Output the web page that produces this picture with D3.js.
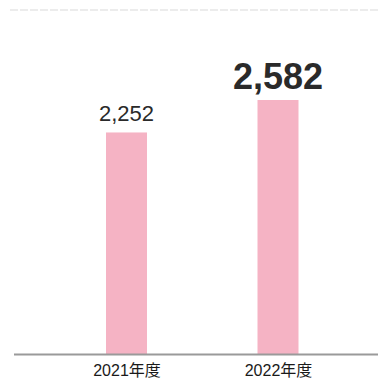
<!DOCTYPE html>
<html>
<head>
<meta charset="utf-8">
<script src="https://cdn.jsdelivr.net/npm/d3@7"></script>
<style>
  html, body { margin: 0; padding: 0; background: #fff; }
  svg { display: block; }
</style>
</head>
<body>
<svg id="chart" width="378" height="380"></svg>
<script>
// Fiscal years and headcount per year
const years = ["2021年度", "2022年度"];
const counts = [2252, 2582];
const valueLabels = ["2,252", "2,582"];

const svg = d3.select("#chart");
const W = 378, H = 380;

const x = d3.scalePoint().domain(years).range([126.5, 278]);
const y = d3.scaleLinear().domain([0, 2582]).range([354, 100]);
const barW = 41;

// faint rule under the heading area
svg.append("line")
  .attr("x1", 10).attr("x2", W).attr("y1", 10).attr("y2", 10)
  .attr("stroke", "#ececec").attr("stroke-width", 2)
  .attr("stroke-dasharray", "8 2");

// bars
svg.selectAll("rect.bar").data(years).join("rect")
  .attr("class", "bar")
  .attr("x", d => x(d) - barW / 2)
  .attr("width", barW)
  .attr("y", (d, i) => y(counts[i]))
  .attr("height", (d, i) => y(0) - y(counts[i]))
  .attr("fill", "#f5b3c4");

// baseline axis
const axis = svg.append("g").attr("transform", `translate(0,${y(0)})`)
  .call(d3.axisBottom(x).tickSize(0).tickPadding(11));
axis.select(".domain").remove();
axis.append("line")
  .attr("x1", 14).attr("x2", W).attr("y1", 0.5).attr("y2", 0.5)
  .attr("stroke", "#9a9a9a").attr("stroke-width", 2);
axis.selectAll(".tick text")
  .attr("font-family", "Liberation Sans, Noto Sans CJK JP")
  .attr("font-size", 16)
  .attr("fill", "#1a1a1a");

// value labels above the bars
svg.selectAll("text.val").data(years).join("text")
  .attr("class", "val")
  .attr("x", d => x(d))
  .attr("y", (d, i) => y(counts[i]) - 11)
  .attr("text-anchor", "middle")
  .attr("font-family", "Liberation Sans")
  .attr("font-weight", (d, i) => i === 1 ? "bold" : "normal")
  .attr("font-size", (d, i) => i === 1 ? 36 : 22)
  .attr("fill", "#2a2a2a")
  .text((d, i) => valueLabels[i]);
</script>
</body>
</html>
